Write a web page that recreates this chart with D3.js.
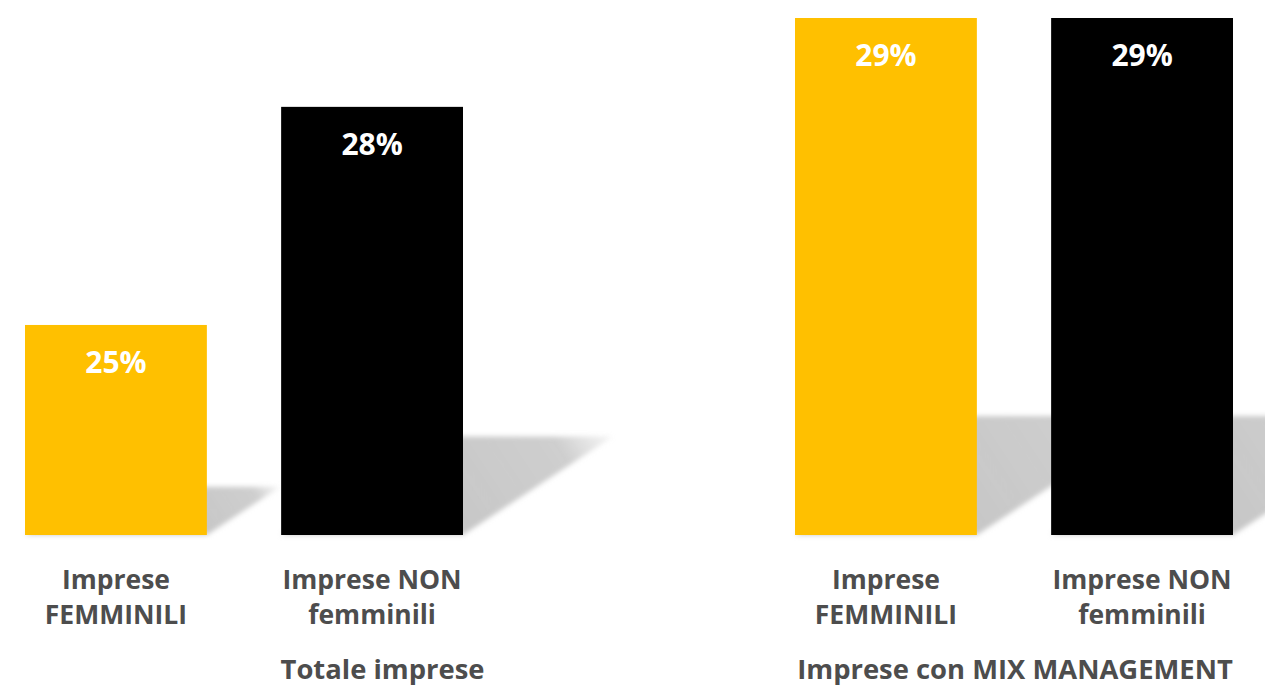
<!DOCTYPE html>
<html>
<head>
<meta charset="utf-8">
<script src="https://cdn.jsdelivr.net/npm/d3@7"></script>
<style>
  html, body { margin: 0; padding: 0; background: #ffffff; }
  svg { display: block; }
  text { font-family: "Open Sans", "DejaVu Sans", sans-serif; font-weight: 700; }
</style>
</head>
<body>
<svg id="chart" width="1265" height="690"></svg>
<script>
// Share of enterprises (%), two groups, female vs non-female enterprises
const groups = ["Totale imprese", "Imprese con MIX MANAGEMENT"];
const categories = ["femminili", "non_femminili"];
const categoryLabels = [["Imprese", "FEMMINILI"], ["Imprese NON", "femminili"]];
const valuesFemminili = [25.4, 29.2];
const valuesNonFemminili = [28.1, 29.2];
const colors = ["#FFC000", "#000000"];

const svg = d3.select("#chart");

// Panel geometry: each group gets its own area with its own band scale
const panels = [
  { x0: 0, x1: 765, barStart: 25, barEnd: 463 },
  { x0: 765, x1: 1265, barStart: 795, barEnd: 1233 }
];

const baseline = 535, topY = 18;
const y = d3.scaleLinear().domain([22.8, 29.2]).range([baseline, topY]);

// Perspective shadow parameters (fraction of bar height)
const shadowRise = 0.23, shadowRun = 0.35;
const labelColor = "#4d4d4d";

const defs = svg.append("defs");
defs.append("filter").attr("id", "soft")
  .attr("x", "-10%").attr("y", "-10%").attr("width", "120%").attr("height", "120%")
  .append("feGaussianBlur").attr("stdDeviation", 2.5);

const data = groups.map((g, gi) => ({
  group: g,
  panel: panels[gi],
  bars: categories.map((c, ci) => ({
    cat: c,
    value: ci === 0 ? valuesFemminili[gi] : valuesNonFemminili[gi]
  }))
}));

const shadowLayer = svg.append("g");
const barLayer = svg.append("g");
const textLayer = svg.append("g");

data.forEach((d, gi) => {
  const x = d3.scaleBand()
    .domain(categories)
    .range([d.panel.barStart, d.panel.barEnd])
    .paddingInner(0.29)
    .paddingOuter(0);
  const bw = x.bandwidth();

  d.bars.forEach((b, bi) => {
    const x0 = x(b.cat), x1 = x0 + bw;
    const h = baseline - y(b.value);
    const dx = h * shadowRun, dy = h * shadowRise;

    // gradient fading the shadow toward its far end
    const gid = `sg${gi}${bi}`;
    const grad = defs.append("linearGradient").attr("id", gid)
      .attr("gradientUnits", "userSpaceOnUse")
      .attr("x1", x1).attr("y1", baseline)
      .attr("x2", x1 + dx).attr("y2", baseline - dy);
    grad.append("stop").attr("offset", 0).attr("stop-color", "#c4c4c4").attr("stop-opacity", 0.95);
    grad.append("stop").attr("offset", 0.72).attr("stop-color", "#c8c8c8").attr("stop-opacity", 0.88);
    grad.append("stop").attr("offset", 1).attr("stop-color", "#d0d0d0").attr("stop-opacity", 0.2);

    shadowLayer.append("polygon")
      .attr("points", [
        [x0, baseline], [x1, baseline],
        [x1 + dx, baseline - dy], [x0 + dx, baseline - dy]
      ].map(p => p.join(",")).join(" "))
      .attr("fill", `url(#${gid})`)
      .attr("filter", "url(#soft)");

    barLayer.append("rect")
      .attr("x", x0).attr("y", y(b.value))
      .attr("width", bw).attr("height", h)
      .attr("fill", colors[bi]);

    textLayer.append("text")
      .attr("x", x0 + bw / 2)
      .attr("y", y(b.value) + 48)
      .attr("text-anchor", "middle")
      .attr("fill", "#ffffff")
      .attr("font-size", 30)
      .text(d3.format(".0f")(b.value) + "%");

    const lbl = textLayer.append("text")
      .attr("x", x0 + bw / 2)
      .attr("y", 589)
      .attr("text-anchor", "middle")
      .attr("fill", labelColor)
      .attr("font-size", 26.5);
    categoryLabels[bi].forEach((line, li) => {
      lbl.append("tspan").attr("x", x0 + bw / 2).attr("dy", li === 0 ? 0 : 35).text(line);
    });
  });

  textLayer.append("text")
    .attr("x", (d.panel.x0 + d.panel.x1) / 2)
    .attr("y", 679)
    .attr("text-anchor", "middle")
    .attr("fill", labelColor)
    .attr("font-size", 27.4)
    .text(d.group);
});
</script>
</body>
</html>
